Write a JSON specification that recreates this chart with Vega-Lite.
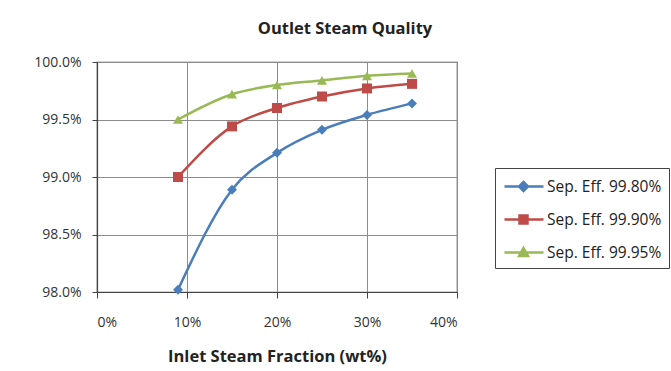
{
  "$schema": "https://vega.github.io/schema/vega-lite/v6.json",
  "width": 360,
  "height": 230,
  "autosize": {"type": "none"},
  "padding": {"left": 97, "top": 62, "right": 214, "bottom": 79},
  "background": "white",
  "config": {
    "view": {"stroke": "#555555", "strokeWidth": 1.2},
    "font": "Open Sans",
    "axis": {
      "labelFont": "Open Sans",
      "labelFontSize": 14,
      "labelColor": "#333333",
      "domainColor": "#444444",
      "domainWidth": 1.2,
      "tickColor": "#444444",
      "tickSize": 5,
      "gridColor": "#8c8c8c",
      "gridWidth": 1,
      "titleFont": "Open Sans",
      "titleColor": "#222222"
    }
  },
  "title": {
    "text": "Outlet Steam Quality",
    "font": "Open Sans",
    "fontSize": 16.5,
    "fontWeight": "bold",
    "color": "#222222",
    "anchor": "middle",
    "frame": "group",
    "dx": 68,
    "offset": 18
  },
  "data": {
    "values": [
      {"x": 0.09, "y": 0.9802, "s": "Sep. Eff. 99.80%"},
      {"x": 0.15, "y": 0.9889, "s": "Sep. Eff. 99.80%"},
      {"x": 0.20, "y": 0.9921, "s": "Sep. Eff. 99.80%"},
      {"x": 0.25, "y": 0.9941, "s": "Sep. Eff. 99.80%"},
      {"x": 0.30, "y": 0.9954, "s": "Sep. Eff. 99.80%"},
      {"x": 0.35, "y": 0.9964, "s": "Sep. Eff. 99.80%"},
      {"x": 0.09, "y": 0.9900, "s": "Sep. Eff. 99.90%"},
      {"x": 0.15, "y": 0.9944, "s": "Sep. Eff. 99.90%"},
      {"x": 0.20, "y": 0.9960, "s": "Sep. Eff. 99.90%"},
      {"x": 0.25, "y": 0.9970, "s": "Sep. Eff. 99.90%"},
      {"x": 0.30, "y": 0.9977, "s": "Sep. Eff. 99.90%"},
      {"x": 0.35, "y": 0.9981, "s": "Sep. Eff. 99.90%"},
      {"x": 0.09, "y": 0.9950, "s": "Sep. Eff. 99.95%"},
      {"x": 0.15, "y": 0.9972, "s": "Sep. Eff. 99.95%"},
      {"x": 0.20, "y": 0.9980, "s": "Sep. Eff. 99.95%"},
      {"x": 0.25, "y": 0.9984, "s": "Sep. Eff. 99.95%"},
      {"x": 0.30, "y": 0.9988, "s": "Sep. Eff. 99.95%"},
      {"x": 0.35, "y": 0.9990, "s": "Sep. Eff. 99.95%"}
    ]
  },
  "layer": [
    {
      "mark": {"type": "line", "interpolate": "monotone", "strokeWidth": 2.5},
      "encoding": {
        "x": {
          "field": "x", "type": "quantitative",
          "scale": {"domain": [0, 0.4], "nice": false, "zero": false},
          "axis": {
            "values": [0, 0.1, 0.2, 0.3, 0.4],
            "format": ".0%",
            "title": "Inlet Steam Fraction (wt%)",
            "titleFontSize": 16.5,
            "titleFontWeight": "bold",
            "titlePadding": 19,
            "labelPadding": 17,
            "tickSize": 6
          }
        },
        "y": {
          "field": "y", "type": "quantitative",
          "scale": {"domain": [0.98, 1.0], "nice": false, "zero": false},
          "axis": {
            "values": [0.98, 0.985, 0.99, 0.995, 1.0],
            "format": ".1%",
            "title": null,
            "labelPadding": 11
          }
        },
        "color": {
          "field": "s", "type": "nominal",
          "scale": {"domain": ["Sep. Eff. 99.80%", "Sep. Eff. 99.90%", "Sep. Eff. 99.95%"], "range": ["#4a7ebb", "#be4b48", "#98b954"]},
          "legend": null
        }
      }
    },
    {
      "mark": {"type": "point", "filled": true, "opacity": 1, "size": 100},
      "encoding": {
        "x": {"field": "x", "type": "quantitative"},
        "y": {"field": "y", "type": "quantitative"},
        "color": {"field": "s", "type": "nominal", "legend": null},
        "shape": {
          "field": "s", "type": "nominal",
          "scale": {"domain": ["Sep. Eff. 99.80%", "Sep. Eff. 99.90%", "Sep. Eff. 99.95%"], "range": ["diamond", "square", "triangle-up"]},
          "legend": null
        }
      }
    },
    {
      "transform": [{"filter": "false"}],
      "mark": {"type": "point", "filled": true, "opacity": 1},
      "encoding": {
        "fill": {
          "field": "s", "type": "nominal",
          "scale": {"domain": ["Sep. Eff. 99.80%", "Sep. Eff. 99.90%", "Sep. Eff. 99.95%"], "range": ["#4a7ebb", "#be4b48", "#98b954"]},
          "legend": null
        },
        "stroke": {
          "field": "s", "type": "nominal",
          "scale": {"domain": ["Sep. Eff. 99.80%", "Sep. Eff. 99.90%", "Sep. Eff. 99.95%"], "range": ["#4a7ebb", "#be4b48", "#98b954"]},
          "legend": null
        },
        "shape": {
          "field": "s", "type": "nominal",
          "scale": {
            "domain": ["Sep. Eff. 99.80%", "Sep. Eff. 99.90%", "Sep. Eff. 99.95%"],
            "range": [
              "M-0.9,0H3M1,-0.45L1.45,0L1,0.45L0.55,0Z",
              "M-0.9,0H3M0.6,-0.4H1.4V0.4H0.6Z",
              "M-0.9,0H3M1,-0.45L1.45,0.35H0.55Z"
            ]
          },
          "legend": {
            "title": null,
            "orient": "none",
            "legendX": 398,
            "legendY": 106,
            "padding": 7,
            "strokeColor": "#444444",
            "fillColor": "white",
            "symbolSize": 400,
            "symbolStrokeWidth": 2.5,
            "rowPadding": 12,
            "labelOffset": 22,
            "labelFont": "Open Sans",
            "labelFontSize": 15.5,
            "labelColor": "#222222",
            "labelLimit": 300
          }
        }
      }
    }
  ],
  "resolve": {"scale": {"shape": "independent", "fill": "independent", "stroke": "independent"}, "legend": {"shape": "independent"}}
}
